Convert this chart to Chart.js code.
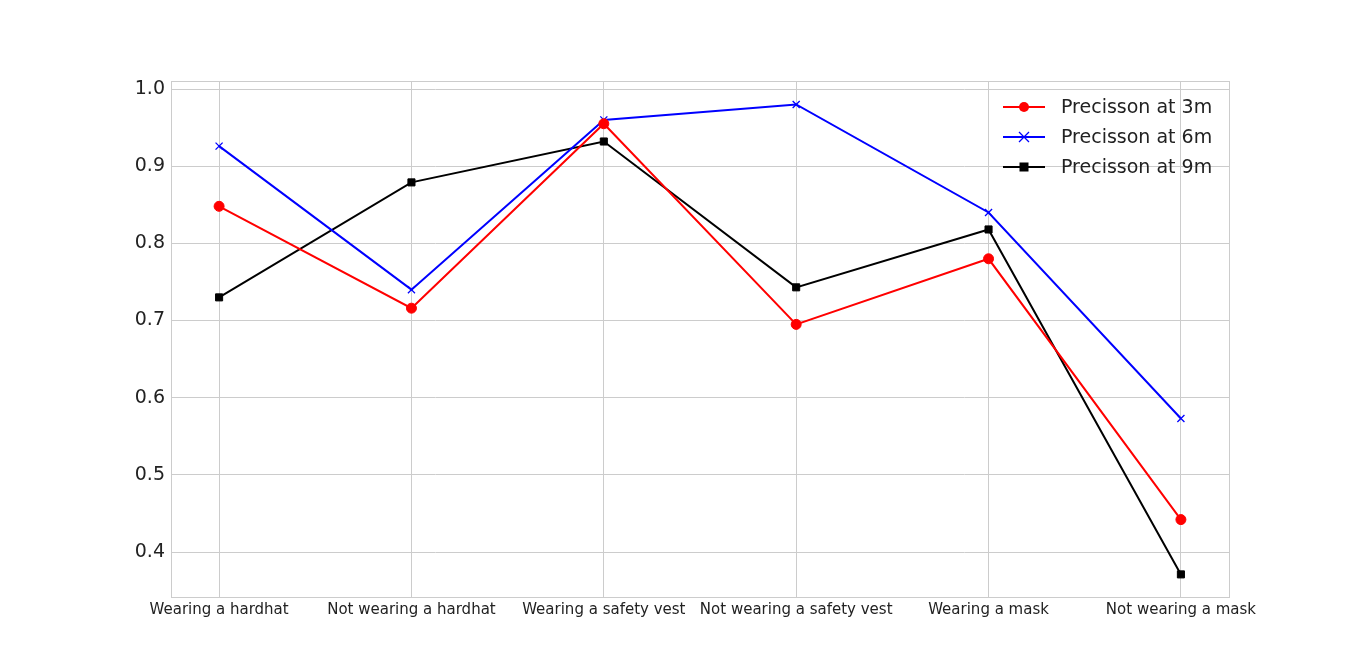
<!DOCTYPE html>
<html><head><meta charset="utf-8">
<script src="https://cdn.jsdelivr.net/npm/chart.js@4"></script>
<style>html,body{margin:0;background:#fff}#wrap{width:1366px;height:671px}</style>
</head><body><div id="wrap"><canvas id="c"></canvas></div>
<script>
const categories=['Wearing a hardhat','Not wearing a hardhat','Wearing a safety vest','Not wearing a safety vest','Wearing a mask','Not wearing a mask']
const prec3=[0.848,0.716,0.955,0.695,0.780,0.442]
const prec6=[0.926,0.740,0.960,0.980,0.840,0.573]
const prec9=[0.730,0.879,0.932,0.743,0.818,0.371]
const yTicks=[0.4,0.5,0.6,0.7,0.8,0.9,1.0]
const series=[
  {label:'Precisson at 3m',data:prec3,color:'#ff0000',style:'circle'},
  {label:'Precisson at 6m',data:prec6,color:'#0000ff',style:'crossRot'},
  {label:'Precisson at 9m',data:prec9,color:'#000000',style:'rect'}
]
const frame={id:'frame',afterDraw(ch){const a=ch.chartArea,c=ch.ctx;c.save();c.strokeStyle='#cccccc';c.lineWidth=1;c.strokeRect(a.left+.5,a.top+.5,a.width,a.height)
  // legend
  let y=107;c.font='19px "DejaVu Sans"';c.textBaseline='middle'
  series.forEach(s=>{c.strokeStyle=s.color;c.fillStyle=s.color;c.lineWidth=2;c.beginPath();c.moveTo(1003,y);c.lineTo(1045,y);c.stroke()
    const m=1024;c.beginPath()
    if(s.style==='circle'){c.arc(m,y,5,0,Math.PI*2);c.fill()}
    else if(s.style==='rect'){c.fillRect(m-4.5,y-4.5,9,9)}
    else{c.lineWidth=1.3;c.moveTo(m-5,y-5);c.lineTo(m+5,y+5);c.moveTo(m+5,y-5);c.lineTo(m-5,y+5);c.stroke()}
    c.fillStyle='#222';c.fillText(s.label,1061,y+1);y+=30})
  c.restore()}}
new Chart(document.getElementById('c'),{type:'line',
  data:{datasets:series.map(s=>({label:s.label,data:s.data.map((v,i)=>({x:i,y:v})),borderColor:s.color,backgroundColor:s.color,borderWidth:2,pointStyle:s.style,pointRadius:s.style==='crossRot'?5:5,pointBorderWidth:s.style==='crossRot'?1.3:1,tension:0}))},
  options:{responsive:true,maintainAspectRatio:false,animation:false,
    layout:{padding:{top:81,right:137,left:0,bottom:0}},
    plugins:{legend:{display:false},tooltip:{enabled:false}},
    scales:{
      x:{type:'linear',min:-0.25,max:5.25,afterBuildTicks(s){s.ticks=categories.map((_,i)=>({value:i}))},
        afterFit(s){s.height=74},
        ticks:{callback:v=>categories[v],color:'#222',font:{family:'DejaVu Sans',size:15},maxRotation:0,padding:4},
        grid:{color:'#cccccc',drawTicks:false},border:{display:false}},
      y:{min:0.3417,max:1.0104,afterBuildTicks(s){s.ticks=yTicks.map(v=>({value:v}))},
        afterFit(s){s.width=171},
        ticks:{callback:v=>v.toFixed(1),color:'#222',font:{family:'DejaVu Sans',size:19},padding:6},
        grid:{color:'#cccccc',drawTicks:false},border:{display:false}}
    }},plugins:[frame]})
</script></body></html>
